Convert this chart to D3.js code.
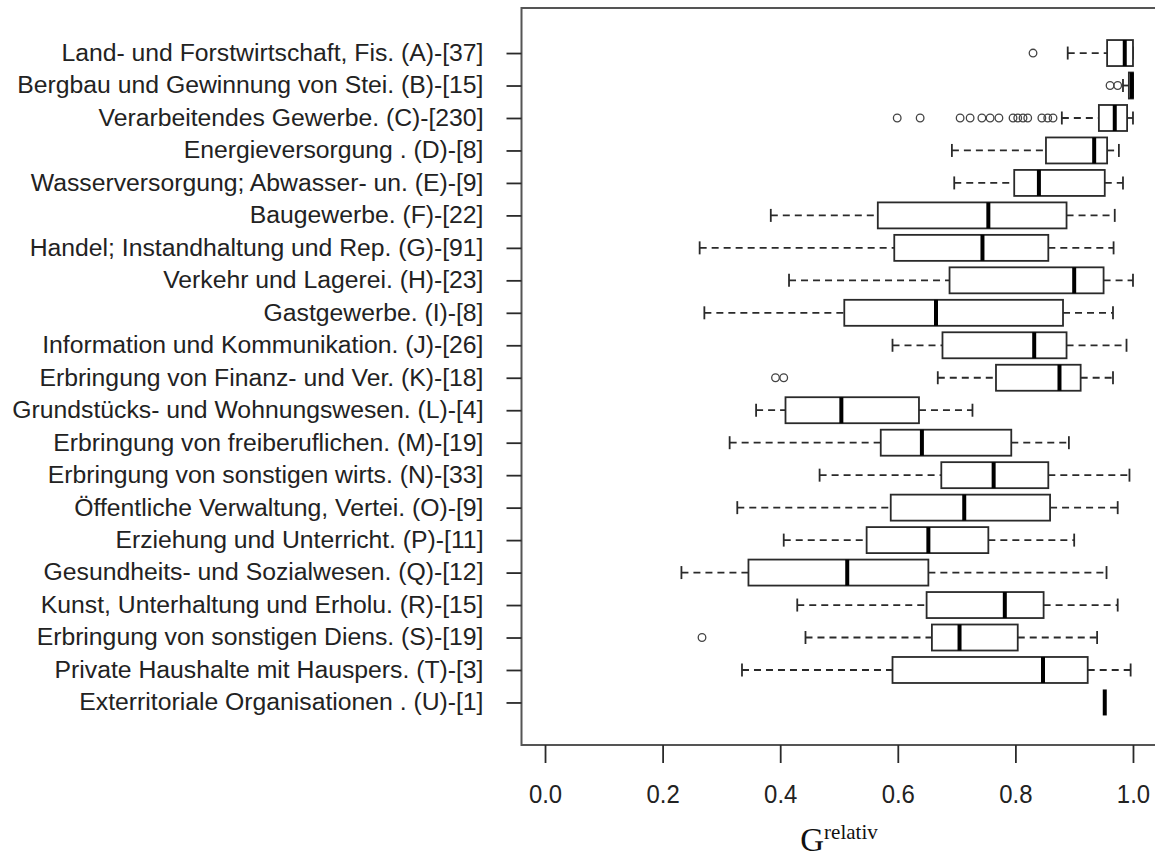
<!DOCTYPE html>
<html>
<head>
<meta charset="utf-8">
<script src="https://cdn.jsdelivr.net/npm/d3@7"></script>
<style>
  body { margin: 0; background: #fff; }
  svg { display: block; }
</style>
</head>
<body>
<div id="wrapper"></div>
<script>
// categories, first entry is drawn at the top
const categories = [
  "Land- und Forstwirtschaft, Fis. (A)-[37]",
  "Bergbau und Gewinnung von Stei. (B)-[15]",
  "Verarbeitendes Gewerbe. (C)-[230]",
  "Energieversorgung . (D)-[8]",
  "Wasserversorgung; Abwasser- un. (E)-[9]",
  "Baugewerbe. (F)-[22]",
  "Handel; Instandhaltung und Rep. (G)-[91]",
  "Verkehr und Lagerei. (H)-[23]",
  "Gastgewerbe. (I)-[8]",
  "Information und Kommunikation. (J)-[26]",
  "Erbringung von Finanz- und Ver. (K)-[18]",
  "Grundstücks- und Wohnungswesen. (L)-[4]",
  "Erbringung von freiberuflichen. (M)-[19]",
  "Erbringung von sonstigen wirts. (N)-[33]",
  "Öffentliche Verwaltung, Vertei. (O)-[9]",
  "Erziehung und Unterricht. (P)-[11]",
  "Gesundheits- und Sozialwesen. (Q)-[12]",
  "Kunst, Unterhaltung und Erholu. (R)-[15]",
  "Erbringung von sonstigen Diens. (S)-[19]",
  "Private Haushalte mit Hauspers. (T)-[3]",
  "Exterritoriale Organisationen . (U)-[1]"
]

// five-number summaries
const whiskerLow  = [0.889, 0.983, 0.879, 0.692, 0.696, 0.384, 0.263, 0.415, 0.271, 0.591, 0.668, 0.359, 0.314, 0.467, 0.327, 0.406, 0.232, 0.429, 0.443, 0.335, 0.952]
const q1          = [0.956, 0.993, 0.942, 0.852, 0.798, 0.566, 0.594, 0.688, 0.509, 0.676, 0.767, 0.409, 0.571, 0.674, 0.588, 0.547, 0.346, 0.649, 0.658, 0.591, 0.952]
const medians     = [0.986, 0.998, 0.969, 0.934, 0.840, 0.754, 0.744, 0.900, 0.665, 0.832, 0.875, 0.504, 0.641, 0.763, 0.713, 0.652, 0.514, 0.782, 0.705, 0.847, 0.952]
const q3          = [1.000, 1.000, 0.990, 0.956, 0.952, 0.887, 0.856, 0.950, 0.881, 0.887, 0.911, 0.636, 0.793, 0.856, 0.859, 0.754, 0.652, 0.848, 0.804, 0.923, 0.952]
const whiskerHigh = [1.000, 1.000, 1.000, 0.976, 0.983, 0.969, 0.967, 1.000, 0.966, 0.989, 0.966, 0.727, 0.891, 0.994, 0.974, 0.900, 0.955, 0.974, 0.939, 0.996, 0.952]

// outliers, one list per category
const outliers = [
  [0.830],
  [0.961, 0.974],
  [0.599, 0.638, 0.706, 0.723, 0.743, 0.757, 0.772, 0.796, 0.804, 0.813, 0.821, 0.845, 0.855, 0.864],
  [], [], [], [], [], [], [],
  [0.392, 0.406],
  [], [], [], [], [], [], [],
  [0.267],
  [], []
]

const xTicks = [0, 0.2, 0.4, 0.6, 0.8, 1.0]

const data = categories.map((c, i) => ({
  name: c,
  lo: whiskerLow[i],
  q1: q1[i],
  med: medians[i],
  q3: q3[i],
  hi: whiskerHigh[i],
  out: outliers[i]
}))

const dimensions = {
  width: 1155,
  height: 856,
  left: 521.5,
  right: 1156.5,
  top: 8,
  bottom: 745
}

const svg = d3.select("#wrapper")
  .append("svg")
  .attr("width", dimensions.width)
  .attr("height", dimensions.height)

// scales: R pads 4% on either side
const xScale = d3.scaleLinear()
  .domain([-0.04, 1.04])
  .range([dimensions.left, dimensions.right])

// rows sit at 1..n, plotted over 0.5..n+0.5, plus 4% padding
const n = categories.length
const unit = (dimensions.bottom - dimensions.top) / (n * 1.08)
const pad = (0.5 + n * 0.04) * unit
const yScale = d3.scalePoint()
  .domain(categories)
  .range([dimensions.top + pad + 1.5, dimensions.bottom - pad + 1])

const boxHalf = 13
const lineColor = "#2a2a2a"

// plot frame
svg.append("rect")
  .attr("x", dimensions.left)
  .attr("y", dimensions.top)
  .attr("width", dimensions.right - dimensions.left)
  .attr("height", dimensions.bottom - dimensions.top)
  .attr("fill", "none")
  .attr("stroke", "#555")
  .attr("stroke-width", 2)

const rows = svg.append("g")
  .selectAll("g")
  .data(data)
  .join("g")
  .attr("transform", d => `translate(0, ${yScale(d.name)})`)

// dashed whiskers
rows.append("line")
  .attr("x1", d => xScale(d.lo))
  .attr("x2", d => xScale(d.q1))
  .attr("stroke", lineColor)
  .attr("stroke-width", 1.8)
  .attr("stroke-dasharray", "7,5")
rows.append("line")
  .attr("x1", d => xScale(d.q3))
  .attr("x2", d => xScale(d.hi))
  .attr("stroke", lineColor)
  .attr("stroke-width", 1.8)
  .attr("stroke-dasharray", "7,5")

// whisker caps
rows.filter(d => d.hi > d.lo).selectAll(".cap")
  .data(d => [d.lo, d.hi])
  .join("line")
  .attr("class", "cap")
  .attr("x1", v => xScale(v))
  .attr("x2", v => xScale(v))
  .attr("y1", -boxHalf / 2)
  .attr("y2", boxHalf / 2)
  .attr("stroke", lineColor)
  .attr("stroke-width", 1.8)

// boxes
rows.filter(d => d.q3 > d.q1).append("rect")
  .attr("x", d => xScale(d.q1))
  .attr("y", -boxHalf)
  .attr("width", d => xScale(d.q3) - xScale(d.q1))
  .attr("height", boxHalf * 2)
  .attr("fill", "#fff")
  .attr("stroke", lineColor)
  .attr("stroke-width", 1.8)

// medians
rows.append("line")
  .attr("x1", d => xScale(d.med))
  .attr("x2", d => xScale(d.med))
  .attr("y1", -boxHalf)
  .attr("y2", boxHalf)
  .attr("stroke", "#000")
  .attr("stroke-width", 4)

// outliers
rows.selectAll(".out")
  .data(d => d.out)
  .join("circle")
  .attr("class", "out")
  .attr("cx", v => xScale(v))
  .attr("r", 3.8)
  .attr("fill", "none")
  .attr("stroke", "#444")
  .attr("stroke-width", 1.3)

// y axis (category labels)
const labelGap = 38
const yAxis = svg.append("g")
  .attr("transform", `translate(${dimensions.left}, 0)`)
  .call(d3.axisLeft(yScale).tickSize(15).tickPadding(0))
yAxis.select(".domain").remove()
yAxis.selectAll("line").attr("stroke", lineColor).attr("stroke-width", 1.8)
const yLabels = yAxis.selectAll("text")
  .attr("x", 0)
  .attr("fill", "#222")
  .style("font-family", "Liberation Sans, Arial, sans-serif")
  .style("font-size", "23px")

// the reference text is wider than the font, stretch it horizontally
const widest = d3.max(yLabels.nodes(), node => node.getComputedTextLength())
const stretch = (dimensions.left - labelGap - 12) / widest
yLabels.attr("transform", `translate(${-labelGap}, 0) scale(${stretch}, 1)`)

// x axis
const xAxis = svg.append("g")
  .attr("transform", `translate(0, ${dimensions.bottom})`)
  .call(d3.axisBottom(xScale).tickValues(xTicks).tickFormat(d3.format(".1f")).tickSize(18).tickPadding(22))
xAxis.select(".domain").remove()
xAxis.selectAll("line").attr("stroke", lineColor).attr("stroke-width", 1.8)
xAxis.selectAll("text")
  .attr("fill", "#222")
  .style("font-family", "Liberation Sans, Arial, sans-serif")
  .style("font-size", "26px")
  .attr("transform", "scale(0.92, 1)")
  .attr("x", 0)

// axis title G^relativ
const title = svg.append("text")
  .attr("x", xScale(0.5))
  .attr("y", 851)
  .attr("text-anchor", "middle")
  .style("font-family", "Liberation Serif, Times New Roman, serif")
  .attr("fill", "#111")
title.append("tspan").style("font-size", "33px").text("G")
title.append("tspan").style("font-size", "21px").attr("dy", -12).text("relativ")
</script>
</body>
</html>
